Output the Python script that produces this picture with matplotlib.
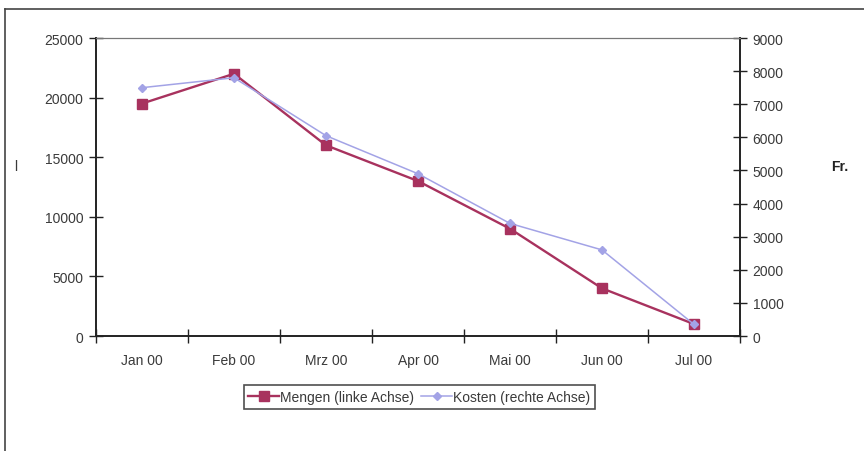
import matplotlib.pyplot as plt
from matplotlib.lines import Line2D
import numpy as np

months = ["Jan 00", "Feb 00", "Mrz 00", "Apr 00", "Mai 00", "Jun 00", "Jul 00"]
mengen = [19500, 22000, 16000, 13000, 9000, 4000, 1000]
kosten = [7500, 7800, 6050, 4900, 3400, 2600, 350]

MENGEN_COLOR = "#a8325e"
KOSTEN_COLOR = "#a3a3e6"
TEXT = "#3a3a3a"

plt.rcParams["font.family"] = ["Liberation Sans", "DejaVu Sans"]

fig = plt.figure(figsize=(8.64, 4.52), dpi=100)
ax = fig.add_axes([0.1111, 0.2544, 0.7454, 0.6593])
ax2 = ax.twinx()

x = np.arange(len(months))
ax.plot(x, mengen, color=MENGEN_COLOR, lw=1.7, marker="s", ms=7,
        mfc=MENGEN_COLOR, mec=MENGEN_COLOR, zorder=3)
ax2.plot(x, kosten, color=KOSTEN_COLOR, lw=1.1, marker="D", ms=4.5,
         mfc=KOSTEN_COLOR, mec=KOSTEN_COLOR, zorder=2)

ax.set_xlim(-0.5, len(months) - 0.5)
ax.set_ylim(0, 25000)
ax2.set_ylim(0, 9000)
ax.set_yticks(np.arange(0, 25001, 5000))
ax2.set_yticks(np.arange(0, 9001, 1000))

# category labels sit between the crossing ticks
ax.set_xticks(x)
ax.set_xticklabels(months)
ax.set_xticks(np.arange(-0.5, len(months)), minor=True)
ax.tick_params(axis="x", which="major", length=0, pad=12, labelsize=10,
               labelcolor=TEXT)
ax.tick_params(axis="x", which="minor", direction="inout", length=10,
               width=1, color="#222222")
ax.tick_params(axis="y", direction="inout", length=10, width=1,
               color="#222222", labelsize=10, labelcolor=TEXT, pad=4)
ax2.tick_params(axis="y", direction="inout", length=10, width=1,
                color="#222222", labelsize=10, labelcolor=TEXT, pad=4)

for a in (ax, ax2):
    a.spines["top"].set_color("#777777")
    a.spines["top"].set_linewidth(0.8)
    a.spines["left"].set_color("#222222")
    a.spines["right"].set_color("#222222")
    a.spines["bottom"].set_color("#222222")
    a.spines["left"].set_linewidth(1.2)
    a.spines["right"].set_linewidth(1.2)
    a.spines["bottom"].set_linewidth(1.2)

fig.text(0.018, 0.63, "l", fontsize=10, color=TEXT, ha="center", va="center")
fig.text(0.972, 0.63, "Fr.", fontsize=10, fontweight="bold", color="#222222",
         ha="center", va="center")

handles = [
    Line2D([], [], color=MENGEN_COLOR, lw=1.7, marker="s", ms=7,
           mfc=MENGEN_COLOR, mec=MENGEN_COLOR),
    Line2D([], [], color=KOSTEN_COLOR, lw=1.1, marker="D", ms=4.5,
           mfc=KOSTEN_COLOR, mec=KOSTEN_COLOR),
]
leg = fig.legend(handles, ["Mengen (linke Achse)", "Kosten (rechte Achse)"],
                 loc="center", bbox_to_anchor=(0.4855, 0.1195), ncol=2,
                 frameon=True, fancybox=False, fontsize=10,
                 handlelength=2.2, handletextpad=0.1, columnspacing=0.5,
                 borderpad=0.35, labelcolor=TEXT)
leg.get_frame().set_edgecolor("#222222")
leg.get_frame().set_linewidth(1.2)

# outer chart frame (top and left edges)
fig.add_artist(Line2D([0.006, 1.0], [0.978, 0.978], color="#444444", lw=1.2))
fig.add_artist(Line2D([0.006, 0.006], [0.0, 0.978], color="#444444", lw=1.2))

fig.savefig("out.png", dpi=100)
